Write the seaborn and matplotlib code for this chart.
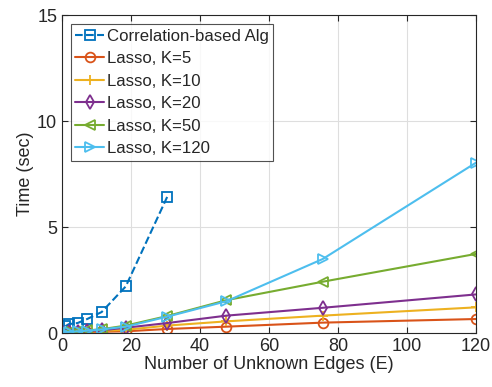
import matplotlib
matplotlib.use("Agg")
import matplotlib.pyplot as plt
import seaborn as sns
import pandas as pd

corr_x = [1.0, 2.0, 4.5, 7.3, 11.5, 18.5, 30.5]
corr_y = [0.32, 0.42, 0.47, 0.66, 0.99, 2.2, 6.42]

lasso_x = [0.3, 2.0, 4.5, 7.3, 11.5, 18.5, 30.5, 47.7, 75.6, 120]
lasso_k5 = [0.01, 0.02, 0.03, 0.05, 0.06, 0.08, 0.19, 0.30, 0.49, 0.66]
lasso_k10 = [0.01, 0.03, 0.05, 0.07, 0.10, 0.15, 0.35, 0.55, 0.82, 1.21]
lasso_k20 = [0.02, 0.04, 0.06, 0.09, 0.13, 0.25, 0.47, 0.82, 1.19, 1.82]
lasso_k50 = [0.03, 0.05, 0.08, 0.12, 0.18, 0.35, 0.80, 1.55, 2.42, 3.73]
lasso_k120 = [0.03, 0.05, 0.08, 0.11, 0.17, 0.30, 0.77, 1.50, 3.49, 8.03]

labels = ["Correlation-based Alg", "Lasso, K=5", "Lasso, K=10",
          "Lasso, K=20", "Lasso, K=50", "Lasso, K=120"]
colors = ["#0072BD", "#D95319", "#EDB120", "#7E2F8E", "#77AC30", "#4DBEEE"]
markers = ["s", "o", "+", "d", "<", ">"]
styles = ["--", "-", "-", "-", "-", "-"]

series = [(corr_x, corr_y)] + [(lasso_x, v) for v in
          [lasso_k5, lasso_k10, lasso_k20, lasso_k50, lasso_k120]]

sns.set_theme(style="ticks")
plt.rcParams["font.family"] = ["Liberation Sans", "DejaVu Sans"]

fig = plt.figure(figsize=(4.92, 3.87), dpi=100)
ax = fig.add_axes([0.126, 0.1395, 0.841, 0.8215])

for (xs, ys), lab, c, m, ls in zip(series, labels, colors, markers, styles):
    df = pd.DataFrame({"E": xs, "t": ys})
    sns.lineplot(data=df, x="E", y="t", ax=ax, color=c, marker=m, linestyle=ls,
                 linewidth=1.5, markersize=7, markerfacecolor="none",
                 markeredgecolor=c, markeredgewidth=1.3, label=lab,
                 estimator=None, sort=False)

ax.set_xlim(0, 120)
ax.set_ylim(0, 15)
ax.set_xticks([0, 20, 40, 60, 80, 100, 120])
ax.set_yticks([0, 5, 10, 15])
ax.grid(True, color="#dedede", linewidth=0.8)
ax.set_axisbelow(True)
for s in ax.spines.values():
    s.set_visible(True)
    s.set_color("#262626")
    s.set_linewidth(0.8)
ax.tick_params(direction="in", length=4, width=0.8, colors="#262626",
               labelsize=13, top=True, right=True, labelcolor="#262626")
ax.set_xlabel("Number of Unknown Edges (E)", fontsize=13, color="#262626", labelpad=1)
ax.set_ylabel("Time (sec)", fontsize=13, color="#262626", labelpad=2)

leg = ax.legend(loc="upper left", fontsize=12.1, frameon=True, fancybox=False,
                edgecolor="#262626", handlelength=1.7, handletextpad=0.15,
                borderpad=0.25, labelspacing=0.45, borderaxespad=0.55)
leg.get_frame().set_linewidth(0.8)

fig.savefig("out.png", dpi=100)
